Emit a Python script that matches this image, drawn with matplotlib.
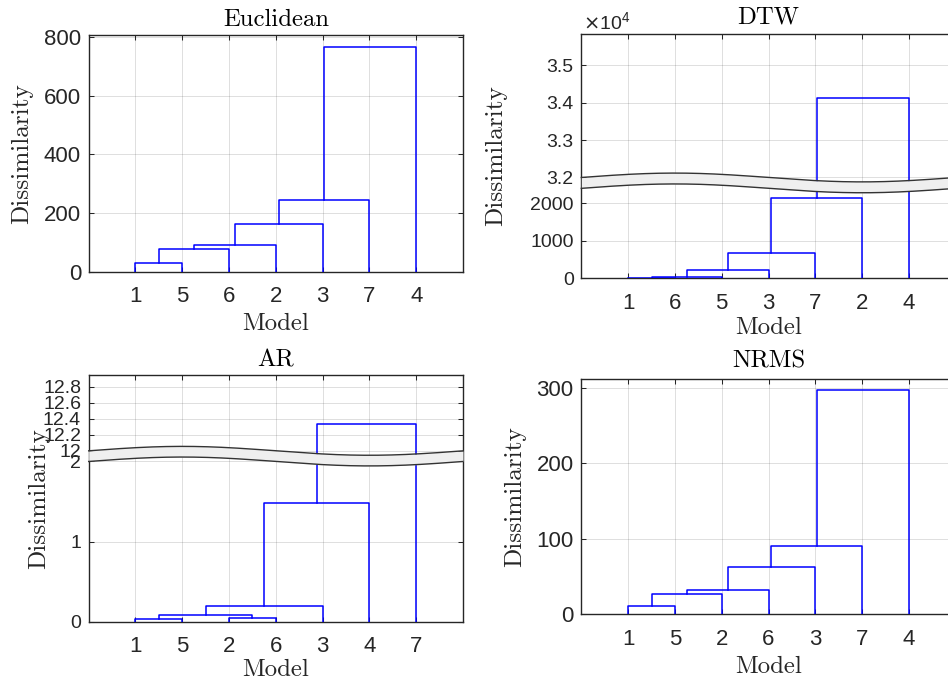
import numpy as np
import matplotlib
matplotlib.use("Agg")
import matplotlib.pyplot as plt

# linkage rows [cluster a, cluster b, height]; leaves are 1..7, new clusters 8, 9, ...
euc_order = [1, 5, 6, 2, 3, 7, 4]
euc_Z = [[1, 5, 29], [8, 6, 77], [9, 2, 91], [10, 3, 161], [11, 7, 244], [12, 4, 767]]

dtw_order = [1, 6, 5, 3, 7, 2, 4]
dtw_Z = [[1, 6, 4], [8, 5, 28], [9, 3, 210], [10, 7, 680], [11, 2, 2150], [12, 4, 34130]]

ar_order = [1, 5, 2, 6, 3, 4, 7]
ar_Z = [[1, 5, 0.037], [2, 6, 0.042], [8, 9, 0.088], [10, 3, 0.19], [11, 4, 1.48], [12, 7, 12.33]]

nrms_order = [1, 5, 2, 6, 3, 7, 4]
nrms_Z = [[1, 5, 11.4], [8, 2, 26.4], [9, 6, 31.7], [10, 3, 62.4], [11, 7, 90.5], [12, 4, 297]]

# broken y axes: (end of lower part, start of upper part, band height)
dtw_break = (2400, 32000, 290)
ar_break = (2.0, 12.0, 0.133)

euc_yticks = [0, 200, 400, 600, 800]
nrms_yticks = [0, 100, 200, 300]
dtw_yticks = [0, 1000, 2000, 32000, 33000, 34000, 35000]
dtw_yticklabels = ["0", "1000", "2000", "3.2", "3.3", "3.4", "3.5"]
ar_yticks = [0, 1, 2, 12, 12.2, 12.4, 12.6, 12.8]
ar_yticklabels = ["0", "1", "2", "12", "12.2", "12.4", "12.6", "12.8"]

W, H = 948, 682
DARK = (0.15, 0.15, 0.15)
BLUE = (0, 0, 1)
SERIF = "cmr10"
SANS = "Liberation Sans"


def make_map(brk):
    if brk is None:
        return lambda y: np.asarray(y, dtype=float)
    lo, hi, gap = brk
    def f(y):
        y = np.asarray(y, dtype=float)
        return np.where(y <= lo, y, y - (hi - lo) + gap)
    return f


def rect(left, top, right, bottom):
    return [left / W, 1 - bottom / H, (right - left) / W, (bottom - top) / H]


def dendro(ax, order, Z, ymap):
    n = len(order)
    xpos = {leaf: i + 1 for i, leaf in enumerate(order)}
    hgt = {leaf: 0.0 for leaf in order}
    for k, (a, b, h) in enumerate(Z):
        xa, xb = xpos[a], xpos[b]
        ax.plot([xa, xa, xb, xb], ymap([hgt[a], h, h, hgt[b]]),
                color=BLUE, lw=1.1, zorder=3)
        xpos[n + 1 + k] = (xa + xb) / 2
        hgt[n + 1 + k] = h


def draw_band(ax, brk, ymap, span):
    lo, hi, gap = brk
    x = np.linspace(0, 8, 300)
    mid = float(ymap(lo)) + gap / 2 + 0.018 * span * np.sin(2 * np.pi * x / 8)
    ax.fill_between(x, mid - gap / 2, mid + gap / 2, color="#efefef",
                    lw=0, zorder=6, clip_on=False)
    ax.plot(x, mid + gap / 2, color="#333333", lw=1.0, zorder=7, clip_on=False)
    ax.plot(x, mid - gap / 2, color="#333333", lw=1.0, zorder=7, clip_on=False)


fig = plt.figure(figsize=(W / 100, H / 100), dpi=100)

panels = [
    ("Euclidean", euc_order, euc_Z, None, euc_yticks, None,
     (88.7, 35.3, 463.0, 271.7), 16, -0.148, -0.173, 6.9),
    ("DTW", dtw_order, dtw_Z, dtw_break, dtw_yticks, dtw_yticklabels,
     (581.3, 33.7, 955.7, 278.3), 14, -0.198, -0.157, 7.0),
    ("AR", ar_order, ar_Z, ar_break, ar_yticks, ar_yticklabels,
     (88.7, 375.0, 463.0, 621.7), 14, -0.103, -0.152, 6.0),
    ("NRMS", nrms_order, nrms_Z, None, nrms_yticks, None,
     (581.3, 378.7, 955.7, 614.3), 16, -0.148, -0.177, 7.9),
]

for (title, order, Z, brk, yticks, ylabels, box, ysize, ylx, xly, tpad) in panels:
    ax = fig.add_axes(rect(*box))
    ymap = make_map(brk)
    dendro(ax, order, Z, ymap)

    top = float(ymap(1.05 * max(row[2] for row in Z)))
    ax.set_xlim(0, len(order) + 1)
    ax.set_ylim(0, top)

    ax.set_xticks(range(1, len(order) + 1))
    ax.set_xticklabels([str(m) for m in order], fontfamily=SANS, fontsize=16, color=DARK)
    ax.set_yticks(ymap(yticks))
    ax.set_yticklabels(ylabels if ylabels else [str(t) for t in yticks],
                       fontfamily=SANS, fontsize=ysize, color=DARK)

    ax.grid(True, color=DARK, alpha=0.15, lw=0.7)
    ax.set_axisbelow(True)
    ax.tick_params(direction="in", top=True, right=True, length=3.5, width=0.75,
                   color=DARK)
    ax.tick_params(axis="x", pad=10.5)
    ax.tick_params(axis="y", pad=5.5)
    for sp in ax.spines.values():
        sp.set_color(DARK)
        sp.set_linewidth(1.0)

    ax.set_title(title, fontfamily=SERIF, fontsize=17.8, color="black", pad=tpad)
    ax.set_xlabel("Model", fontfamily=SERIF, fontsize=17.8, color=DARK)
    ax.set_ylabel("Dissimilarity", fontfamily=SERIF, fontsize=18.2, color=DARK)
    ax.xaxis.set_label_coords(0.5, xly)
    ax.yaxis.set_label_coords(ylx, 0.5)

    if brk is not None:
        draw_band(ax, brk, ymap, top)

    if title == "DTW":
        ax.text(0.004, 1.018, r"$\times\mathregular{10^{4}}$", transform=ax.transAxes,
                fontfamily=SANS, fontsize=14, color=DARK, ha="left", va="baseline")

fig.savefig("out.png", dpi=100)
